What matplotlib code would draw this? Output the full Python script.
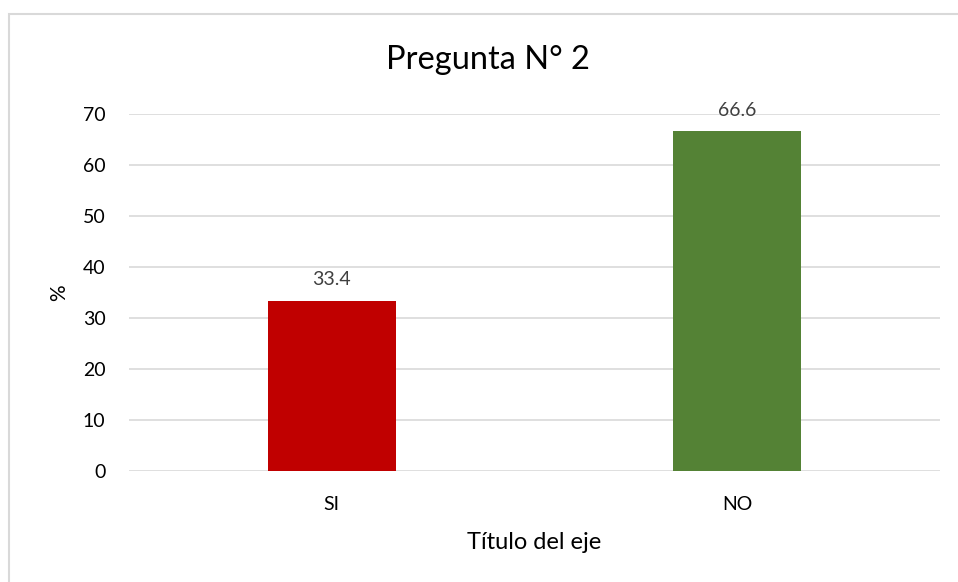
import matplotlib
matplotlib.use("Agg")
import matplotlib.pyplot as plt
from matplotlib.patches import Rectangle

categories = ["SI", "NO"]
values = [33.4, 66.6]
colors = ["#C00000", "#548235"]
yticks = [0, 10, 20, 30, 40, 50, 60, 70]

plt.rcParams['font.family'] = ['Lato', 'DejaVu Sans']

fig = plt.figure(figsize=(9.58, 5.82), dpi=100)
ax = fig.add_axes([129/958, 1-471/582, (940-129)/958, (471-114)/582])

x = range(len(categories))
bars = ax.bar(x, values, width=0.315, color=colors, zorder=3)
for xi, v in zip(x, values):
    ax.annotate(f"{v}", (xi, v), xytext=(0, 9), textcoords="offset points",
                ha="center", va="bottom", fontsize=14, color="#404040")

ax.set_xlim(-0.5, 1.5)
ax.set_ylim(0, 70)
ax.set_yticks(yticks)
ax.set_xticks(list(x))
ax.set_xticklabels(categories)
ax.grid(axis="y", color="#D9D9D9", linewidth=1.2, zorder=0)
for s in ax.spines.values():
    s.set_visible(False)
ax.tick_params(axis="both", length=0, labelsize=14, colors="#000000")
ax.tick_params(axis="y", pad=17)
ax.tick_params(axis="x", pad=18)
ax.set_ylabel("%", fontsize=15, labelpad=10)
ax.set_xlabel("Título del eje", fontsize=17, labelpad=14)
fig.text(488/958, 1-60/582, "Pregunta N° 2", ha="center", va="center", fontsize=23.5)

fig.patches.append(Rectangle((9/958, -0.05), 1.2, 1-14/582+0.05, transform=fig.transFigure,
                             fill=False, edgecolor="#D9D9D9", linewidth=1.5, figure=fig))

fig.savefig("out.png", dpi=100)
